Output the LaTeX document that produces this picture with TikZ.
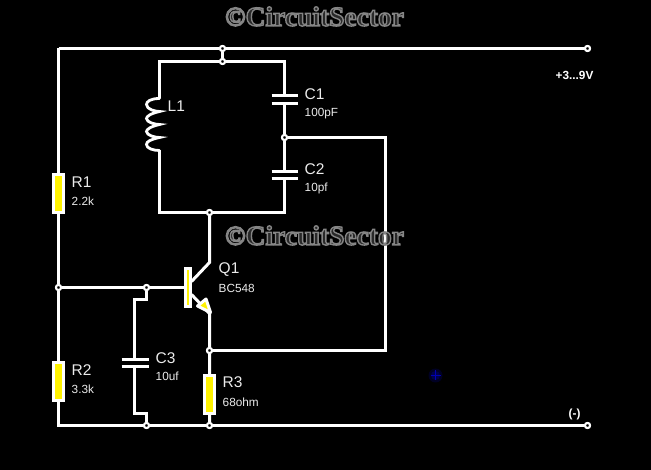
\documentclass[tikz,border=0pt]{standalone}
\usepackage{fontspec}
\setmainfont{Liberation Sans}
\newfontfamily\wmfont[FakeBold=5]{Liberation Serif Bold}
\newfontfamily\boldlab{Liberation Sans Bold}
\newcommand{\wmtext}[1]{\special{pdf:bcolor [0.16] [0.52]}#1\special{pdf:ecolor}}
\definecolor{wire}{HTML}{FFFFFF}
\definecolor{resfill}{HTML}{FFF200}
\tikzset{
  wireline/.style={draw=wire,line width=3pt,line join=miter},
  junction/.style={circle,draw=wire,fill=black,line width=2pt,inner sep=0pt,minimum size=5pt},
  resbody/.style={rectangle,draw=wire,fill=resfill,line width=3pt,inner sep=0pt,minimum width=10pt,minimum height=38pt},
  plate/.style={draw=wire,line width=3pt},
  biglab/.style={text=white!92!black,font=\fontsize{15.5}{16}\selectfont,anchor=west,inner sep=0pt},
  smalllab/.style={text=white!92!black,font=\fontsize{11.8}{12}\selectfont,anchor=west,inner sep=0pt},
  boldtag/.style={text=white,font=\boldlab\fontsize{11.8}{12}\selectfont,anchor=west,inner sep=0pt},
  watermark/.style={font=\wmfont\fontsize{27.5}{28}\selectfont,inner sep=0pt},
}
\begin{document}
\begin{tikzpicture}[x=1pt,y=-1pt]
\useasboundingbox[fill=black] (0,0) rectangle (651,470);
\begin{scope}[xshift=0.5pt,yshift=-0.5pt]
% named points
\coordinate (tl) at (58,48);
\coordinate (bl) at (58,425);
\coordinate (lt) at (159,61);
\coordinate (rt) at (284,61);
\coordinate (lb) at (159,212);
\coordinate (rb) at (284,212);
\coordinate (coilA) at (159,98);
\coordinate (coilB) at (159,150);
\coordinate (c1a) at (284,95);
\coordinate (c1b) at (284,103);
\coordinate (c2a) at (284,171);
\coordinate (c2b) at (284,178);
\coordinate (fbA) at (385,137);
\coordinate (fbB) at (385,350);
\coordinate (cbend) at (209,262);
\coordinate (cend) at (191,281);
\coordinate (eend) at (191,294);
\coordinate (ebend) at (209,313);
\coordinate (bbar) at (184,287);
\coordinate (c3t1) at (146,299);
\coordinate (c3t2) at (134,299);
\coordinate (c3a) at (134,359);
\coordinate (c3b) at (134,366);
\coordinate (c3b2) at (134,413);
\coordinate (c3b3) at (146,413);
% components
\node[junction] (vcc) at (587,48) {};
\node[junction] (gnd) at (587,425) {};
\node[junction] (jt) at (222,48) {};
\node[junction] (jm) at (222,61) {};
\node[junction] (jc) at (284,137) {};
\node[junction] (jb) at (209,212) {};
\node[junction] (jl) at (58,287) {};
\node[junction] (jk) at (146,287) {};
\node[junction] (je) at (209,350) {};
\node[junction] (jg) at (209,425) {};
\node[junction] (jh) at (146,425) {};
% wires
\draw[wireline] (tl) -- (jt) -- (vcc);
\draw[wireline] (tl) -- (jl) -- (bl) -- (jh) -- (jg) -- (gnd);
\draw[wireline] (jt) -- (jm);
\draw[wireline] (coilA) -- (lt) -- (jm) -- (rt) -- (c1a);
\draw[wireline] (c1b) -- (jc) -- (c2a);
\draw[wireline] (c2b) -- (rb) -- (jb) -- (lb) -- (coilB);
\draw[wireline] (jc) -- (fbA) -- (fbB) -- (je);
\draw[wireline] (jb) -- (cbend) -- (cend);
\draw[wireline] (jl) -- (jk) -- (bbar);
\draw[wireline] (eend) -- (ebend) -- (je) -- (jg);
\draw[wireline] (jk) -- (c3t1) -- (c3t2) -- (c3a);
\draw[wireline] (c3b) -- (c3b2) -- (c3b3) -- (jh);
% junctions on top
\foreach \n in {vcc,gnd,jt,jm,jc,jb,jl,jk,je,jg,jh}{\node[junction] at (\n) {};}
% inductor
\draw[draw=wire,line width=2.8pt,line cap=round]
  (coilA) .. controls (150,98) and (146,101) .. (146,104)
  .. controls (146,109) and (155,111) .. (159,111)
  .. controls (150,113) and (146,116) .. (146,118)
  .. controls (146,122) and (155,124) .. (159,124)
  .. controls (150,126) and (146,129) .. (146,131)
  .. controls (146,135) and (155,137) .. (159,137)
  .. controls (150,139) and (146,141) .. (146,144)
  .. controls (146,148) and (153,150) .. (coilB);
% capacitor plates
\draw[plate] (271,95) -- (297,95) (271,103) -- (297,103);
\draw[plate] (271,171) -- (297,171) (271,178) -- (297,178);
\draw[plate] (121,359) -- (148,359) (121,366) -- (148,366);
% resistors
\node[resbody] (R1) at (58,193) {};
\node[resbody] (R2) at (58,381) {};
\node[resbody] (R3) at (209,394) {};
% transistor
\node[resbody,minimum width=5pt,minimum height=38pt] (Q) at (187,287) {};
\draw[draw=wire,fill=resfill,line width=3pt,line join=round] (197,305.5) -- (205.5,298.5) -- (210,312) -- cycle;
% cross marker
\fill[blue!14!black] (435,375) circle (7pt);
\fill[blue!30!black] (435,375) circle (4.5pt);
\draw[draw=blue!70!black,line width=1.2pt] (430,375) -- (440,375) (435,370) -- (435,380);
% labels
\node[biglab] (tL1) at (167,106) {L1};
\node[biglab] (tC1) at (304,94) {C1};
\node[smalllab] (vC1) at (304,113) {100pF};
\node[biglab] (tC2) at (304,169) {C2};
\node[smalllab] (vC2) at (304,188) {10pf};
\node[biglab] (tR1) at (71,182) {R1};
\node[smalllab] (vR1) at (71,200.5) {2.2k};
\node[biglab] (tR2) at (71,370) {R2};
\node[smalllab] (vR2) at (71,388.5) {3.3k};
\node[biglab] (tQ1) at (218,269) {Q1};
\node[smalllab] (vQ1) at (218,288) {BC548};
\node[biglab] (tC3) at (155,358) {C3};
\node[smalllab] (vC3) at (155,376) {10uf};
\node[biglab] (tR3) at (222,382) {R3};
\node[smalllab] (vR3) at (222,401.5) {68ohm};
\node[boldtag] (vs) at (555,75) {+3...9V};
\node[boldtag] (neg) at (568,414) {(-)};
\node[watermark] (w1) at (314,16) {\wmtext{©CircuitSector}};
\node[watermark] (w2) at (314,235) {\wmtext{©CircuitSector}};
\end{scope}
\end{tikzpicture}
\end{document}
